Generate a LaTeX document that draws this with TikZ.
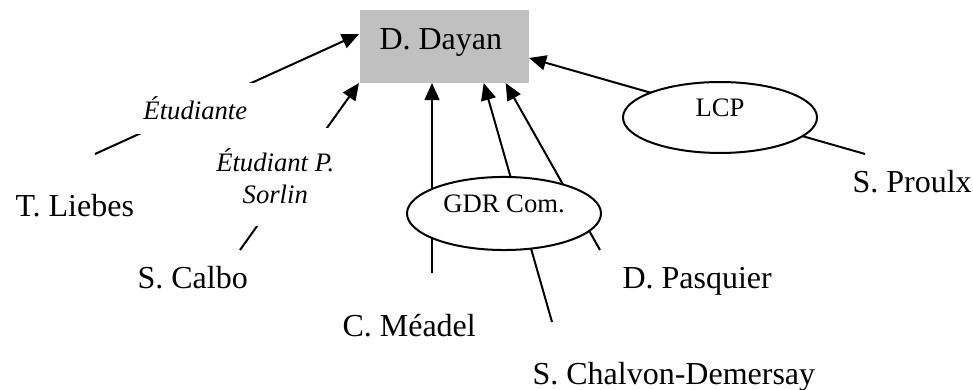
\documentclass[tikz,border=0pt]{standalone}
\usepackage{fontspec}
\setmainfont{Liberation Serif}
\usetikzlibrary{arrows.meta,shapes.geometric}
\definecolor{boxgray}{RGB}{192,192,192}

\begin{document}
\begin{tikzpicture}[x=0.375pt,y=-0.375pt,>={Triangle[length=6.4pt,width=5.6pt]},
  person/.style={anchor=base west,inner sep=0pt,font=\fontsize{12}{14}\selectfont},
  link/.style={->,line width=0.75pt},
  lbl/.style={fill=white,inner sep=0pt,align=center,font=\fontsize{10}{12}\selectfont\itshape},
  grp/.style={ellipse,draw,fill=white,line width=0.75pt,inner sep=0pt,minimum width=72.75pt,
    text height=7.9pt,text depth=9pt,font=\fontsize{10}{12}\selectfont}]
\useasboundingbox (0,0) rectangle (973,390);

% central box
\node[fill=boxgray,anchor=north west,inner xsep=7.5pt,inner ysep=0pt,text height=15pt,
  text depth=12.375pt,font=\fontsize{12}{14}\selectfont] (dayan) at (359,9)
  {\makebox[48.375pt][l]{D. Dayan}};

% people
\node[person] (liebes) at (15,217) {T. Liebes};
\node[person] (calbo) at (137,289) {S. Calbo};
\node[person] (meadel) at (342,337) {C. Méadel};
\node[person] (chalvon) at (532,385) {S. Chalvon-Demersay};
\node[person] (pasquier) at (622,289) {D. Pasquier};
\node[person] (proulx) at (852,193) {S. Proulx};

% free ends of the links
\coordinate (tLiebes) at (95,154);
\coordinate (tCalbo) at (240,250);
\coordinate (tMeadel) at (432,273);
\coordinate (tChalvon) at (552,322);
\coordinate (tPasquier) at (600,250);
\coordinate (tProulx) at (865,154);

\draw[link] (tLiebes) -- node[lbl,pos=0.38,minimum width=45.4pt,minimum height=19.1pt] (lblEtu) {Étudiante} (dayan.172);
\draw[link] (tCalbo) -- node[lbl,pos=0.44,xshift=-6.4pt,minimum width=48.75pt,minimum height=36.75pt] (lblSorlin) {Étudiant P.\\Sorlin} (dayan.south west);
\draw[link] (tMeadel) -- (tMeadel |- dayan.south);
\draw[link] (tChalvon) -- (dayan.317);
\draw[link] (tPasquier) -- (dayan.329);
\draw[link] (tProulx) -- (dayan.352);

% groups laid over the links
\node[grp,minimum height=27.4pt] (gdr) at (504,213.5) {GDR Com.};
\node[grp,minimum height=26.6pt] (lcp) at (720,117.5) {LCP};
\end{tikzpicture}
\end{document}
